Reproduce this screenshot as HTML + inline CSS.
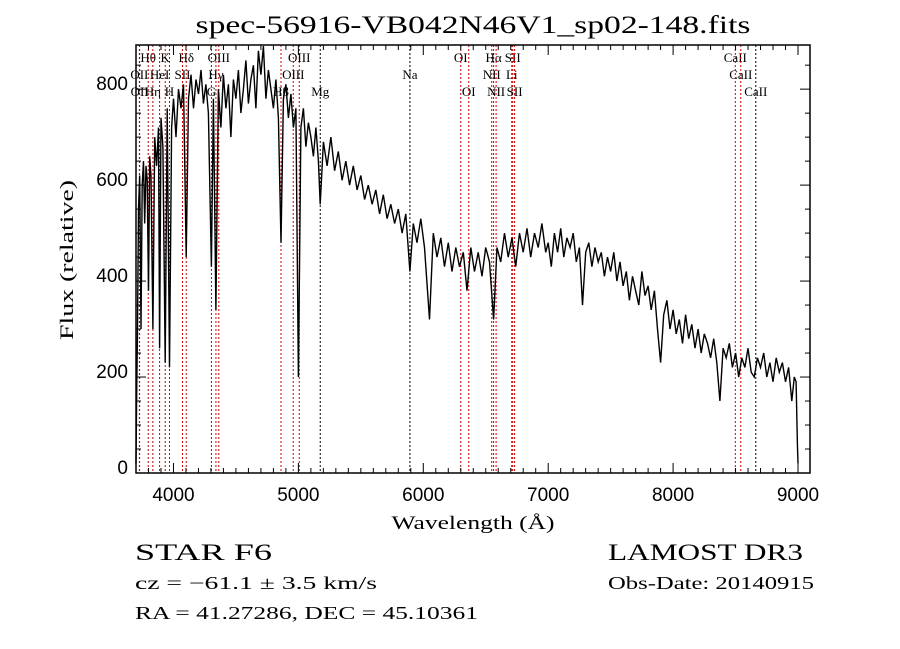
<!DOCTYPE html>
<html><head><meta charset="utf-8"><style>
html,body{margin:0;padding:0;background:#fff;}
svg{display:block;font-family:"Liberation Serif",serif;}
</style></head><body>
<svg id="chart" width="900" height="649" viewBox="0 0 900 649" xmlns="http://www.w3.org/2000/svg">
<rect width="900" height="649" fill="#fff"/>
<text x="473" y="33" text-anchor="middle" font-size="25" textLength="555" lengthAdjust="spacingAndGlyphs">spec-56916-VB042N46V1_sp02-148.fits</text>
<g id="lines"></g>
<g id="series"></g>
<g id="axes"></g>
<text x="473" y="529" text-anchor="middle" font-size="19" textLength="163" lengthAdjust="spacingAndGlyphs">Wavelength (Å)</text>
<text transform="translate(73,260) rotate(-90)" text-anchor="middle" font-size="19" textLength="160" lengthAdjust="spacingAndGlyphs">Flux (relative)</text>
<text x="135" y="560" font-size="23" textLength="137" lengthAdjust="spacingAndGlyphs">STAR   F6</text>
<text x="135" y="589" font-size="18" textLength="242" lengthAdjust="spacingAndGlyphs">cz = −61.1 ± 3.5 km/s</text>
<text x="135" y="619" font-size="18" textLength="343" lengthAdjust="spacingAndGlyphs">RA =  41.27286, DEC =  45.10361</text>
<text x="608" y="560" font-size="23" textLength="195" lengthAdjust="spacingAndGlyphs">LAMOST DR3</text>
<text x="608" y="589" font-size="18" textLength="206" lengthAdjust="spacingAndGlyphs">Obs-Date: 20140915</text>
</svg>
<script>
const wavelengths=[3700,3705,3712,3720,3730,3740,3750,3760,3770,3780,3790,3800,3810,3820,3835,3850,3865,3880,3889,3900,3915,3934,3950,3968,3985,4000,4020,4040,4060,4080,4102,4120,4140,4160,4180,4200,4220,4240,4260,4280,4304,4320,4340,4360,4380,4400,4420,4440,4460,4480,4500,4520,4540,4560,4580,4600,4620,4640,4660,4680,4700,4720,4740,4760,4780,4800,4820,4840,4861,4880,4900,4920,4940,4960,4980,5000,5020,5040,5060,5080,5100,5120,5140,5160,5175,5200,5230,5260,5290,5320,5350,5380,5410,5440,5470,5500,5530,5560,5590,5620,5650,5680,5710,5740,5770,5800,5830,5860,5893,5920,5950,5980,6010,6050,6080,6110,6140,6170,6200,6230,6260,6290,6320,6350,6380,6410,6440,6470,6500,6530,6563,6590,6620,6650,6680,6710,6740,6770,6800,6830,6860,6890,6920,6950,6980,7000,7025,7050,7075,7100,7125,7150,7175,7200,7225,7250,7275,7300,7325,7350,7375,7400,7425,7450,7475,7500,7525,7550,7575,7600,7625,7650,7675,7700,7725,7750,7775,7800,7825,7850,7875,7900,7925,7950,7975,8000,8025,8050,8075,8100,8125,8150,8175,8200,8225,8250,8275,8300,8325,8350,8375,8400,8425,8450,8475,8500,8525,8550,8575,8600,8625,8650,8675,8700,8725,8750,8775,8800,8825,8850,8875,8900,8925,8950,8970,8985,8995,9000];
const fluxValues=[20,150,300,550,620,300,600,650,520,640,610,380,660,620,300,700,640,720,260,740,680,230,760,220,720,780,700,800,760,810,450,780,830,760,820,790,840,770,810,750,430,780,340,800,720,830,760,810,700,820,780,840,750,800,860,770,820,850,760,880,830,890,780,840,800,760,820,740,480,780,810,740,790,720,760,200,720,760,680,730,700,660,720,650,560,690,640,700,630,670,610,650,600,640,590,620,570,600,560,590,540,580,530,560,520,550,500,540,420,520,480,530,470,320,500,450,490,430,480,420,470,430,460,380,470,420,460,410,470,440,320,470,440,500,450,490,430,500,460,510,450,500,470,520,460,480,430,500,460,510,450,490,470,500,440,470,350,460,480,430,470,440,460,410,450,420,460,400,440,390,420,360,410,380,350,420,370,390,340,380,300,230,330,360,300,340,290,320,270,330,280,310,260,300,250,290,270,240,280,230,150,260,240,270,220,250,200,240,220,260,210,200,240,220,250,200,230,190,240,210,230,190,220,150,200,190,60,20];
const xTicks=[4000,5000,6000,7000,8000,9000];
const yTicks=[0,200,400,600,800];
const lineWaves=[3727,3729,3798,3835,3889,3934,3968,4072,4102,4304,4340,4363,4861,4959,5007,5175,5893,6300,6364,6548,6563,6583,6708,6716,6731,8498,8542,8662];
const lineLabels=["OII","OII","Hθ","Hη","HeI","K","H","SII","Hδ","G","Hγ","OIII","Hβ","OIII","OIII","Mg","Na","OI","OI","NII","Hα","NII","Li","SII","SII","CaII","CaII","CaII"];
const lineRows=[2,3,1,3,2,1,3,2,1,3,2,1,3,2,1,3,2,1,3,2,1,3,2,1,3,1,2,3];
const lineAbsorb=[0,0,0,0,0,0,0,0,0,0,0,0,0,0,0,1,1,0,0,0,0,0,0,0,0,0,0,1];

const X0=136,X1=810,Y0=473,Y1=45,WMIN=3700,WMAX=9096,FMAX=892;
const NS="http://www.w3.org/2000/svg";
function xs(w){return X0+(w-WMIN)/(WMAX-WMIN)*(X1-X0);}
function ys(f){return Y0-f/FMAX*(Y0-Y1);}
function mk(tag,attrs,parent){const e=document.createElementNS(NS,tag);for(const k in attrs)e.setAttribute(k,attrs[k]);parent.appendChild(e);return e;}

const gl=document.getElementById('lines');
for(let i=0;i<lineWaves.length;i++){
  const x=xs(lineWaves[i]);
  const l=mk('line',{x1:x,x2:x,y1:Y1,y2:Y0,stroke:lineAbsorb[i]?'#000':'#c00','stroke-width':1,'stroke-dasharray':'2,2'},gl);
  
  
  const t=mk('text',{x:x,y:Y1+17+(lineRows[i]-1)*17,'text-anchor':'middle','font-size':13},gl);
  t.textContent=lineLabels[i];
  
  
}

const gs=document.getElementById('series');
let d='';
const n=Math.min(wavelengths.length,fluxValues.length);
for(let i=0;i<n;i++){d+=(i?'L':'M')+xs(wavelengths[i]).toFixed(1)+','+ys(Math.min(fluxValues[i],FMAX)).toFixed(1);}
const p=mk('path',{d:d,fill:'none',stroke:'#000','stroke-width':1.4},gs);



const ga=document.getElementById('axes');
const fr=mk('rect',{x:X0,y:Y1,width:X1-X0,height:Y0-Y1,fill:'none',stroke:'#000','stroke-width':1.5},ga);


for(let w=3800;w<WMAX;w+=100){
  const x=xs(w),maj=(w%1000===0),len=maj?10:5;
  mk('line',{x1:x,x2:x,y1:Y0,y2:Y0-len,stroke:'#000'},ga);
  mk('line',{x1:x,x2:x,y1:Y1,y2:Y1+len,stroke:'#000'},ga);
}
for(const w of xTicks){
  const t=mk('text',{x:xs(w),y:Y0+28,'text-anchor':'middle','font-size':19,'font-family':'Liberation Sans, sans-serif'},ga);
  t.textContent=w;
  
  
}
for(let f=50;f<FMAX;f+=50){
  const y=ys(f),len=(f%200===0)?10:5;
  mk('line',{x1:X0,x2:X0+len,y1:y,y2:y,stroke:'#000'},ga);
  mk('line',{x1:X1,x2:X1-len,y1:y,y2:y,stroke:'#000'},ga);
}
for(const f of yTicks){
  const t=mk('text',{x:X0-8,y:ys(f)+1,'text-anchor':'end','font-size':19,'font-family':'Liberation Sans, sans-serif'},ga);
  t.textContent=f;
  
  
}
</script>
</body></html>
